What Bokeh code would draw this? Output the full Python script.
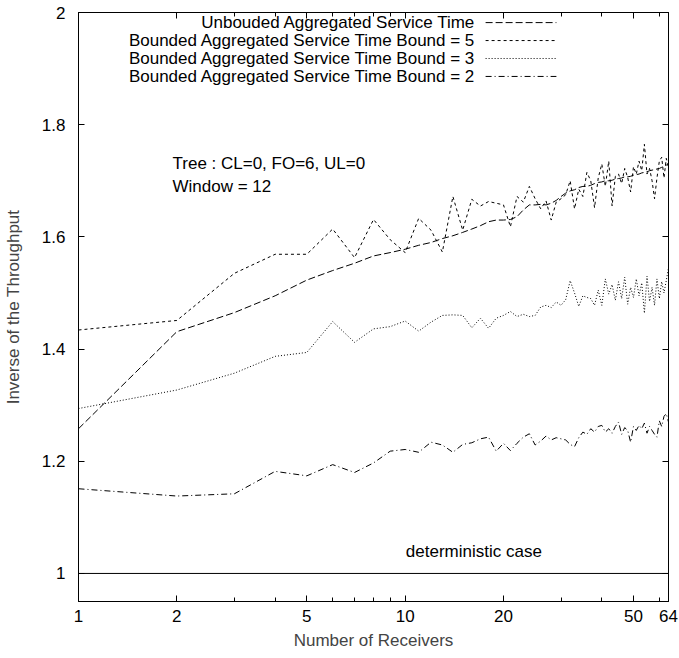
import math
from bokeh.plotting import figure
from bokeh.models import Range1d, FixedTicker, LogAxis, LinearAxis, Label
from bokeh.embed import file_html
from bokeh.resources import INLINE

# ---------------- data ----------------
receivers = list(range(1, 65))

unbounded = [1.258, 1.431, 1.465, 1.495, 1.523, 1.540, 1.553, 1.566, 1.572, 1.578,
             1.585, 1.590, 1.597, 1.602, 1.608, 1.614, 1.620, 1.627, 1.630, 1.630,
             1.631, 1.636, 1.648, 1.657, 1.657, 1.658, 1.657, 1.660, 1.665, 1.672,
             1.678, 1.682, 1.684, 1.688, 1.690, 1.690, 1.692, 1.695, 1.697, 1.698,
             1.700, 1.700, 1.701, 1.703, 1.704, 1.705, 1.707, 1.707, 1.708, 1.710,
             1.711, 1.712, 1.714, 1.715, 1.716, 1.718, 1.719, 1.720, 1.721, 1.722,
             1.724, 1.726, 1.728, 1.729]

bound5 = [1.434, 1.451, 1.535, 1.569, 1.569, 1.614, 1.563, 1.631, 1.595, 1.572,
          1.633, 1.612, 1.573, 1.672, 1.612, 1.667, 1.655, 1.663, 1.660, 1.657,
          1.618, 1.672, 1.662, 1.690, 1.668, 1.650, 1.664, 1.630, 1.662, 1.668,
          1.675, 1.700, 1.650, 1.685, 1.672, 1.715, 1.700, 1.652, 1.705, 1.730,
          1.690, 1.735, 1.655, 1.708, 1.712, 1.695, 1.722, 1.706, 1.680, 1.725,
          1.712, 1.735, 1.718, 1.765, 1.712, 1.722, 1.700, 1.668, 1.705, 1.735,
          1.742, 1.705, 1.740, 1.725]

bound3 = [1.294, 1.327, 1.357, 1.387, 1.394, 1.449, 1.412, 1.436, 1.440, 1.450,
          1.432, 1.448, 1.460, 1.461, 1.460, 1.438, 1.455, 1.437, 1.455, 1.460,
          1.467, 1.458, 1.462, 1.458, 1.460, 1.475, 1.478, 1.474, 1.484, 1.478,
          1.488, 1.522, 1.500, 1.476, 1.495, 1.492, 1.490, 1.478, 1.505, 1.478,
          1.525, 1.498, 1.515, 1.487, 1.520, 1.490, 1.528, 1.480, 1.510, 1.492,
          1.525, 1.495, 1.518, 1.464, 1.530, 1.485, 1.510, 1.478, 1.525, 1.490,
          1.520, 1.500, 1.522, 1.545]

bound2 = [1.151, 1.138, 1.142, 1.182, 1.174, 1.194, 1.180, 1.197, 1.218, 1.221,
          1.216, 1.234, 1.229, 1.216, 1.230, 1.233, 1.240, 1.243, 1.218, 1.232,
          1.219, 1.232, 1.243, 1.249, 1.229, 1.236, 1.245, 1.238, 1.242, 1.240,
          1.238, 1.230, 1.226, 1.242, 1.252, 1.248, 1.258, 1.252, 1.262, 1.264,
          1.252, 1.258, 1.250, 1.262, 1.270, 1.248, 1.260, 1.255, 1.234, 1.262,
          1.255, 1.264, 1.258, 1.268, 1.250, 1.262, 1.255, 1.248, 1.243, 1.272,
          1.262, 1.280, 1.285, 1.270]

series_labels = ["Unbouded Aggregated Service Time",
                 "Bounded Aggregated Service Time Bound = 5",
                 "Bounded Aggregated Service Time Bound = 3",
                 "Bounded Aggregated Service Time Bound = 2"]
series_dashes = ["7 3", "3 3", "1 2", "6 3 1 3"]

deterministic_value = 1.0

x_ticks = [1, 2, 5, 10, 20, 50, 64]
x_tick_labels = ["1", "2", "5", "10", "20", "50", "64"]
x_minor_ticks = [3, 4, 6, 7, 8, 9, 30, 40, 60]
y_ticks = [1.0, 1.2, 1.4, 1.6, 1.8, 2.0]
y_tick_labels = ["1", "1.2", "1.4", "1.6", "1.8", "2"]

# ---------------- figure ----------------
FONT = "Liberation Sans"
FS = "17px"

X_MIN, X_MAX = 1, 64
Y_MIN, Y_MAX = 0.95, 2.0

p = figure(width=679, height=658, x_axis_type="log",
           x_range=Range1d(X_MIN, X_MAX), y_range=Range1d(Y_MIN, Y_MAX),
           output_backend="svg", toolbar_location=None,
           min_border_left=78, min_border_right=11,
           min_border_top=12, min_border_bottom=57)
p.grid.visible = False
p.outline_line_color = "black"
p.outline_line_width = 1
p.background_fill_color = "white"
p.border_fill_color = "white"

xt = FixedTicker(ticks=x_ticks, minor_ticks=x_minor_ticks)
yt = FixedTicker(ticks=y_ticks, minor_ticks=[])

def style_axis(ax, show_labels):
    ax.axis_line_color = "black"
    ax.major_tick_line_color = "black"
    ax.minor_tick_line_color = "black"
    ax.major_tick_in = 6
    ax.major_tick_out = 0
    ax.minor_tick_in = 4
    ax.minor_tick_out = 0
    ax.major_label_text_font = FONT
    ax.major_label_text_color = "black"
    if show_labels:
        ax.major_label_text_font_size = FS
    else:
        ax.major_label_text_font_size = "0px"
        ax.major_label_standoff = 0

xa = p.xaxis[0]
xa.ticker = xt
xa.major_label_overrides = dict(zip(x_ticks, x_tick_labels))
style_axis(xa, True)
xa.major_label_standoff = 8
xa.axis_label = "Number of Receivers"
xa.axis_label_text_font = FONT
xa.axis_label_text_font_size = FS
xa.axis_label_text_font_style = "normal"
xa.axis_label_standoff = 6

ya = p.yaxis[0]
ya.ticker = yt
ya.major_label_overrides = dict(zip(y_ticks, y_tick_labels))
style_axis(ya, True)
ya.major_label_standoff = 13
ya.axis_label = "Inverse of the Throughput"
ya.axis_label_text_font = FONT
ya.axis_label_text_font_size = FS
ya.axis_label_text_font_style = "normal"
ya.axis_label_standoff = 16

top = LogAxis(ticker=FixedTicker(ticks=x_ticks, minor_ticks=x_minor_ticks))
style_axis(top, False)
top.major_label_overrides = {t: "" for t in x_ticks}
p.add_layout(top, "above")

right = LinearAxis(ticker=FixedTicker(ticks=y_ticks, minor_ticks=[]))
style_axis(right, False)
right.major_label_overrides = {t: "" for t in y_ticks}
p.add_layout(right, "right")

# ---------------- data lines ----------------
series = [unbounded, bound5, bound3, bound2]
for vals, dash in zip(series, series_dashes):
    p.line(receivers, vals, line_color="black", line_width=1, line_dash=dash)

# deterministic case
p.line([X_MIN, X_MAX], [deterministic_value, deterministic_value],
       line_color="black", line_width=1)

# ---------------- legend (text left of sample) ----------------
def frac_to_x(f):
    return 10 ** (math.log10(X_MIN) + f * (math.log10(X_MAX) - math.log10(X_MIN)))

leg_text_x = frac_to_x(0.673)
leg_x1, leg_x2 = frac_to_x(0.690), frac_to_x(0.810)
leg_rows = [1.982, 1.950, 1.918, 1.886]
for lab, dash, yy in zip(series_labels, series_dashes, leg_rows):
    p.add_layout(Label(x=leg_text_x, y=yy, text=lab, text_align="right",
                       text_baseline="middle", text_font=FONT,
                       text_font_size=FS, text_color="black"))
    p.line([leg_x1, leg_x2], [yy, yy], line_color="black", line_width=1,
           line_dash=dash)

# annotations
p.add_layout(Label(x=1.94, y=1.730, text="Tree : CL=0, FO=6, UL=0",
                   text_baseline="middle", text_font=FONT, text_font_size=FS,
                   text_color="black"))
p.add_layout(Label(x=1.94, y=1.690, text="Window = 12",
                   text_baseline="middle", text_font=FONT, text_font_size=FS,
                   text_color="black"))
p.add_layout(Label(x=10.05, y=1.04, text="deterministic case",
                   text_baseline="middle", text_font=FONT, text_font_size=FS,
                   text_color="black"))

open("out.html", "w").write(file_html(p, INLINE))
